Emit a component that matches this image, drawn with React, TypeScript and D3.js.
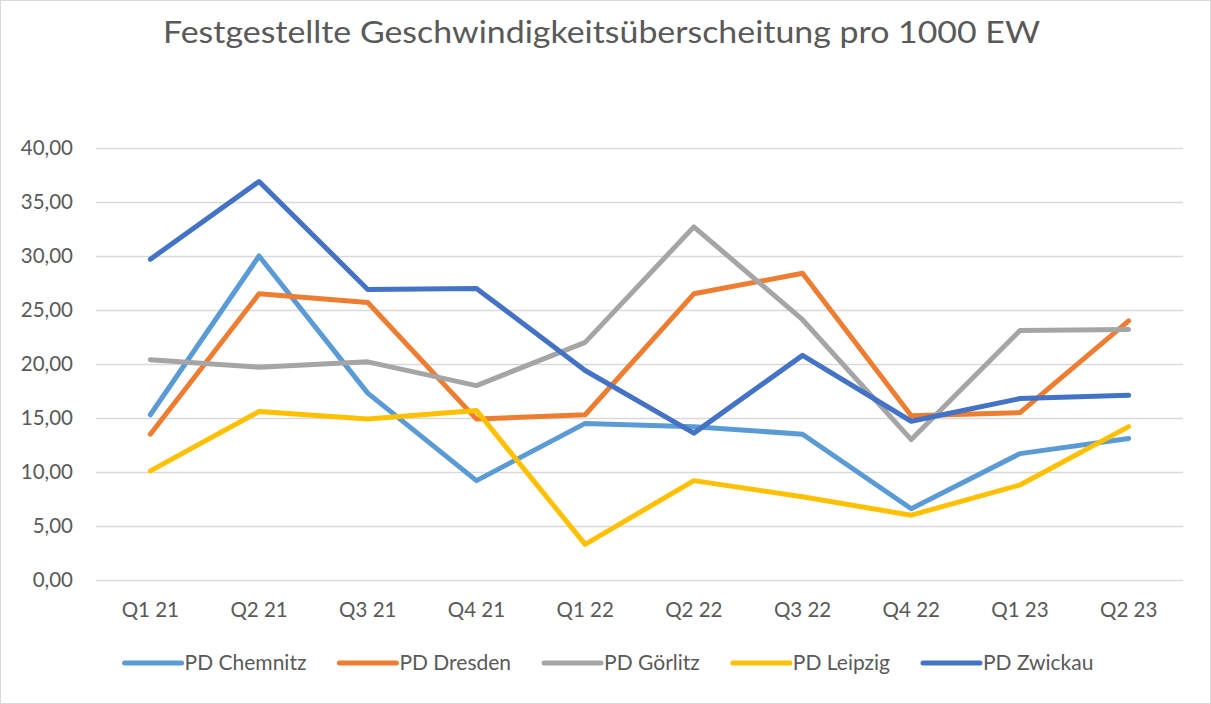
import React, { useEffect, useRef } from 'react';
import * as d3 from 'd3';

const quarters = ['Q1 21', 'Q2 21', 'Q3 21', 'Q4 21', 'Q1 22', 'Q2 22', 'Q3 22', 'Q4 22', 'Q1 23', 'Q2 23'];

const chemnitz = [15.3, 30.0, 17.3, 9.2, 14.5, 14.2, 13.5, 6.6, 11.7, 13.1];
const dresden = [13.5, 26.5, 25.7, 14.9, 15.3, 26.5, 28.4, 15.2, 15.5, 24.0];
const goerlitz = [20.4, 19.7, 20.2, 18.0, 22.0, 32.7, 24.1, 13.0, 23.1, 23.2];
const leipzig = [10.1, 15.6, 14.9, 15.7, 3.3, 9.2, 7.7, 6.0, 8.8, 14.2];
const zwickau = [29.7, 36.9, 26.9, 27.0, 19.4, 13.6, 20.8, 14.7, 16.8, 17.1];

const seriesNames = ['PD Chemnitz', 'PD Dresden', 'PD Görlitz', 'PD Leipzig', 'PD Zwickau'];
const yTicks = [0, 5, 10, 15, 20, 25, 30, 35, 40];

const colors = ['#5B9BD5', '#ED7D31', '#A5A5A5', '#FFC000', '#4472C4'];
const font = 'Lato, "Open Sans", sans-serif';

const App = () => {
  const svgRef = useRef<SVGSVGElement>(null);

  useEffect(() => {
    const width = 1211;
    const height = 704;
    const left = 96;
    const right = 1183;
    const top = 148;
    const bottom = 580;

    const series = [chemnitz, dresden, goerlitz, leipzig, zwickau].map((values, i) => ({
      name: seriesNames[i],
      values,
      color: colors[i],
    }));

    const svg = d3.select(svgRef.current);
    svg.selectAll('*').remove();
    svg.attr('width', width).attr('height', height);

    svg.append('rect')
      .attr('x', 0.5).attr('y', 0.5)
      .attr('width', width - 1).attr('height', height - 1)
      .attr('fill', '#fff').attr('stroke', '#d9d9d9');

    svg.append('text')
      .attr('x', 163).attr('y', 43)
      .attr('font-family', font).attr('font-size', 31)
      .attr('textLength', 877).attr('lengthAdjust', 'spacingAndGlyphs')
      .attr('fill', '#595959')
      .text('Festgestellte Geschwindigkeitsüberscheitung pro 1000 EW');

    const x = d3.scaleBand().domain(quarters).range([left, right]);
    const y = d3.scaleLinear().domain([0, 40]).range([bottom, top]);

    const locale = d3.formatLocale({ decimal: ',', thousands: '.', grouping: [3], currency: ['', '€'] });
    const fmt = locale.format('.2f');

    const yAxis = svg.append('g')
      .attr('transform', `translate(${left},0)`)
      .call(d3.axisLeft(y).tickValues(yTicks).tickSize(-(right - left)).tickPadding(23).tickFormat(d => fmt(d as number)));
    yAxis.select('.domain').remove();
    yAxis.selectAll('line').attr('stroke', '#d9d9d9').attr('stroke-width', 1.3);
    yAxis.selectAll('text').attr('font-family', font).attr('font-size', 20.5).attr('fill', '#595959');

    const xAxis = svg.append('g')
      .attr('transform', `translate(0,${bottom})`)
      .call(d3.axisBottom(x).tickSize(0).tickPadding(22));
    xAxis.select('.domain').remove();
    xAxis.selectAll('text').attr('font-family', font).attr('font-size', 20.5).attr('fill', '#595959');

    const line = d3.line<number>()
      .x((_, i) => (x(quarters[i]) as number) + x.bandwidth() / 2)
      .y(d => y(d));

    svg.append('g')
      .selectAll('path')
      .data(series)
      .enter()
      .append('path')
      .attr('d', d => line(d.values))
      .attr('fill', 'none')
      .attr('stroke', d => d.color)
      .attr('stroke-width', 5)
      .attr('stroke-linejoin', 'round')
      .attr('stroke-linecap', 'round');

    // legend, centred under the chart
    const legend = svg.append('g');
    const items = legend.selectAll('g')
      .data(series)
      .enter()
      .append('g');
    items.append('line')
      .attr('x1', 0).attr('x2', 57)
      .attr('y1', 0).attr('y2', 0)
      .attr('stroke', d => d.color)
      .attr('stroke-width', 5)
      .attr('stroke-linecap', 'round');
    items.append('text')
      .attr('x', 60).attr('y', 7)
      .attr('font-family', font).attr('font-size', 21)
      .attr('fill', '#595959')
      .text(d => d.name);

    let offset = 0;
    const positions: number[] = [];
    items.each(function () {
      positions.push(offset);
      const t = d3.select(this).select('text').node() as SVGTextElement;
      offset += 60 + t.getComputedTextLength() + 33;
    });
    const total = offset - 33;
    const startX = 609 - total / 2;
    items.attr('transform', (_, i) => `translate(${startX + positions[i]},663)`);
  }, []);

  return (
    <div style={{ position: 'absolute', left: 0, top: 0 }}>
      <svg ref={svgRef}></svg>
    </div>
  );
};

export default App;
